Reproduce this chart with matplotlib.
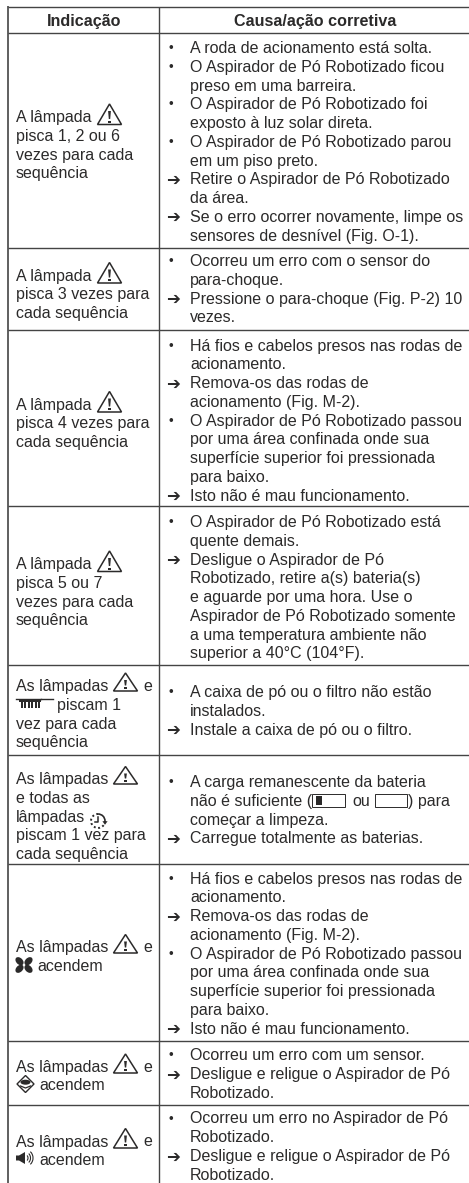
import numpy as np
import matplotlib
matplotlib.use('Agg')
import matplotlib.pyplot as plt
from matplotlib.patches import Polygon, Rectangle, Ellipse, Circle, Arc

plt.rcParams['font.family'] = ['Liberation Sans', 'DejaVu Sans']

INK = '#2b2a2a'
RULE = '#444444'

headers = ['Indicação', 'Causa/ação corretiva']

# b = bullet, a = arrow, '' = continuation line
causes = [
    [('b', 'A roda de acionamento está solta.'),
     ('b', 'O Aspirador de Pó Robotizado ficou'), ('', 'preso em uma barreira.'),
     ('b', 'O Aspirador de Pó Robotizado foi'), ('', 'exposto à luz solar direta.'),
     ('b', 'O Aspirador de Pó Robotizado parou'), ('', 'em um piso preto.'),
     ('a', 'Retire o Aspirador de Pó Robotizado'), ('', 'da área.'),
     ('a', 'Se o erro ocorrer novamente, limpe os'), ('', 'sensores de desnível (Fig. O-1).')],
    [('b', 'Ocorreu um erro com o sensor do'), ('', 'para-choque.'),
     ('a', 'Pressione o para-choque (Fig. P-2) 10'), ('', 'vezes.')],
    [('b', 'Há fios e cabelos presos nas rodas de'), ('', 'acionamento.'),
     ('a', 'Remova-os das rodas de'), ('', 'acionamento (Fig. M-2).'),
     ('b', 'O Aspirador de Pó Robotizado passou'), ('', 'por uma área confinada onde sua'),
     ('', 'superfície superior foi pressionada'), ('', 'para baixo.'),
     ('a', 'Isto não é mau funcionamento.')],
    [('b', 'O Aspirador de Pó Robotizado está'), ('', 'quente demais.'),
     ('a', 'Desligue o Aspirador de Pó'), ('', 'Robotizado, retire a(s) bateria(s)'),
     ('', 'e aguarde por uma hora. Use o'), ('', 'Aspirador de Pó Robotizado somente'),
     ('', 'a uma temperatura ambiente não'), ('', 'superior a 40°C (104°F).')],
    [('b', 'A caixa de pó ou o filtro não estão'), ('', 'instalados.'),
     ('a', 'Instale a caixa de pó ou o filtro.')],
    [('b', 'A carga remanescente da bateria'), ('', 'não é suficiente ('),
     ('', 'começar a limpeza.'),
     ('a', 'Carregue totalmente as baterias.')],
    [('b', 'Há fios e cabelos presos nas rodas de'), ('', 'acionamento.'),
     ('a', 'Remova-os das rodas de'), ('', 'acionamento (Fig. M-2).'),
     ('b', 'O Aspirador de Pó Robotizado passou'), ('', 'por uma área confinada onde sua'),
     ('', 'superfície superior foi pressionada'), ('', 'para baixo.'),
     ('a', 'Isto não é mau funcionamento.')],
    [('b', 'Ocorreu um erro com um sensor.'),
     ('a', 'Desligue e religue o Aspirador de Pó'), ('', 'Robotizado.')],
    [('b', 'Ocorreu um erro no Aspirador de Pó'), ('', 'Robotizado.'),
     ('a', 'Desligue e religue o Aspirador de Pó'), ('', 'Robotizado.')],
]

indications = [
    ['A lâmpada', 'pisca 1, 2 ou 6', 'vezes para cada', 'sequência'],
    ['A lâmpada', 'pisca 3 vezes para', 'cada sequência'],
    ['A lâmpada', 'pisca 4 vezes para', 'cada sequência'],
    ['A lâmpada', 'pisca 5 ou 7', 'vezes para cada', 'sequência'],
    ['As lâmpadas', '', 'vez para cada', 'sequência'],
    ['As lâmpadas', 'e todas as', 'lâmpadas', 'piscam 1 vez para', 'cada sequência'],
    ['As lâmpadas', ''],
    ['As lâmpadas', ''],
    ['As lâmpadas', ''],
]

# layout, in reference pixels
left_x, mid_x, right_x = 8, 159.3, 469
top_y, head_y = 6.7, 33.3
row_bottoms = [247.7, 330, 506, 664.5, 755, 864, 1041, 1105]
cause_base = [53, 266, 350.5, 527, 697, 787, 883.5, 1060.5, 1123.5]
ind_base = [122, 280.5, 409.5, 569, 691, 784, 952, 1072, 1146.5]
line_h = 18.75
fs = 11.55

fig = plt.figure(figsize=(4.69, 11.83), dpi=100)
ax = fig.add_axes([0, 0, 1, 1])
ax.set_xlim(0, 469)
ax.set_ylim(1183, 0)
ax.axis('off')


def txt(x, y, s, **kw):
    kw.setdefault('fontsize', fs)
    ax.text(x, y, s, color=INK, va='baseline', ha=kw.pop('ha', 'left'), **kw)


def warn(x, base, w=24, h=20):
    ax.add_patch(Polygon([(x, base), (x + w / 2, base - h), (x + w, base)], closed=True,
                         fill=False, ec=INK, lw=1.1, joinstyle='miter'))
    cx = x + w / 2
    ax.add_patch(Polygon([(cx - 1.4, base - h + 7), (cx + 1.4, base - h + 7), (cx + 0.7, base - 5.5),
                          (cx - 0.7, base - 5.5)], closed=True, fc=INK, ec='none'))
    ax.add_patch(Rectangle((cx - 1.2, base - 4), 2.4, 2.4, fc=INK, ec='none'))


def filter_icon(x, y):
    ax.plot([x, x + 25], [y, y], color=INK, lw=1.0)
    ax.plot([x + 25, x + 37], [y + 0.8, y + 0.8], color=INK, lw=1.0)
    ax.add_patch(Rectangle((x + 3, y + 1), 22, 2.4, fc=INK, ec='none'))
    for i in range(6):
        ax.add_patch(Rectangle((x + 4.5 + i * 3.5, y + 3), 2.0, 6.5, fc=INK, ec='none'))


def timer_icon(cx, cy, r=7):
    ax.add_patch(Arc((cx, cy), 2 * r, 2 * r, theta1=270, theta2=360, color=INK, lw=1.2))
    ax.add_patch(Arc((cx, cy), 2 * r, 2 * r, theta1=0, theta2=270, color=INK, lw=1.4, ls=(0, (1, 1.3))))
    ax.plot([cx, cx, cx - 3], [cy - 4.5, cy + 1, cy + 1], color=INK, lw=1.1)
    ax.add_patch(Polygon([(cx + r - 2.6, cy + 0.2), (cx + r + 2.6, cy + 0.2), (cx + r, cy + 3.8)],
                         closed=True, fc=INK, ec='none'))


def fan_icon(cx, cy):
    for ang, dx, dy in [(45, -4.5, -3.8), (-45, 4.5, -3.8), (-45, -4.5, 3.8), (45, 4.5, 3.8)]:
        ax.add_patch(Ellipse((cx + dx, cy + dy), 9.5, 6.5, angle=ang, fc=INK, ec='none'))
    ax.add_patch(Circle((cx, cy), 0.9, fc='white', ec='none'))


def floor_icon(cx, cy):
    ax.add_patch(Polygon([(cx - 8.5, cy), (cx, cy - 8.5), (cx + 8.5, cy), (cx, cy + 8.5)], closed=True,
                         fill=False, ec=INK, lw=1.0))
    ax.add_patch(Ellipse((cx, cy - 1.8), 10, 5, fc=INK, ec='none'))
    ax.plot([cx - 5, cx, cx + 5], [cy + 2, cy + 4, cy + 2], color=INK, lw=0.9)


def speaker_icon(x, y):
    ax.add_patch(Polygon([(x, y + 3.5), (x + 3, y + 3.5), (x + 9, y), (x + 9, y + 12), (x + 3, y + 8.5),
                          (x, y + 8.5)], closed=True, fc=INK, ec='none'))
    for r in [3, 5.5, 8]:
        ax.add_patch(Arc((x + 9, y + 6), 2 * r, 2 * r + 1, theta1=-50, theta2=50, color=INK, lw=0.8))


def battery(x, y, w, level):
    ax.add_patch(Rectangle((x, y), w, 12.5, fill=False, ec=INK, lw=0.7))
    ax.add_patch(Rectangle((x + w, y + 3.5), 1.2, 5.5, fc=INK, ec='none'))
    if level:
        ax.add_patch(Rectangle((x + 3.5, y + 2), 6, 8.5, fc=INK, ec='none'))


# grid
for y in [top_y, head_y] + row_bottoms:
    ax.plot([left_x, right_x], [y, y], color=RULE, lw=1.0, solid_capstyle='butt')
ax.plot([left_x, left_x], [top_y - 0.5, 1183], color=RULE, lw=1.2, solid_capstyle='butt')
ax.plot([mid_x, mid_x], [top_y, 1183], color=RULE, lw=1.0, solid_capstyle='butt')

# header
txt(84, 25.5, headers[0], fontsize=11.65, fontweight='bold', ha='center')
txt(315, 25.5, headers[1], fontsize=11.65, fontweight='bold', ha='center')

# right column
for lines, y0 in zip(causes, cause_base):
    for i, (mark, s) in enumerate(lines):
        y = y0 + i * line_h
        if mark == 'b':
            txt(168.5, y - 1, '•', fontsize=9.5)
        elif mark == 'a':
            txt(166, y + 0.5, '➔', fontsize=12, family='DejaVu Sans', fontweight='bold')
        txt(190, y, s)

# left column
for lines, y0 in zip(indications, ind_base):
    for i, s in enumerate(lines):
        txt(16, y0 + i * line_h, s)

# inline icons and the text around them
for y0 in ind_base[:4]:
    warn(97.5, y0 + 2.5, w=24, h=20.5)
warn(113.5, 691, h=18)
txt(143, 691, 'e')
filter_icon(16, 698.5)
txt(57, 709.5, 'piscam 1')
warn(113.5, 784, h=17.5)
timer_icon(98, 821)
warn(113.5, 953, h=18.5)
txt(143, 952, 'e')
fan_icon(24, 965)
txt(37, 970.5, 'acendem')
warn(113.5, 1073, h=19)
txt(143, 1072, 'e')
floor_icon(25.5, 1084)
txt(39, 1090.5, 'acendem')
warn(113.5, 1148, h=19.5)
txt(143, 1146.5, 'e')
speaker_icon(16, 1152)
txt(39.5, 1165, 'acendem')

batt_y = 787 + line_h
battery(312, batt_y - 11.5, 33, True)
txt(352, batt_y, 'ou')
battery(375, batt_y - 11.5, 32, False)
txt(408.5, batt_y, ') para')

fig.savefig('out.png', dpi=100)
